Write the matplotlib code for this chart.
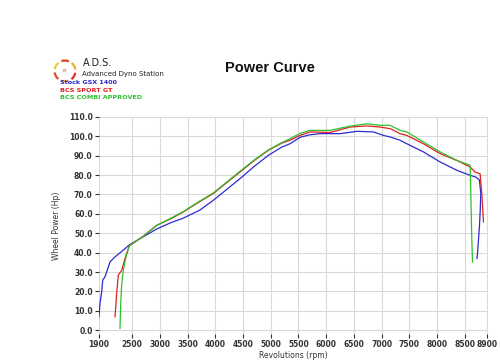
import numpy as np
import matplotlib
matplotlib.use("Agg")
import matplotlib.pyplot as plt
from matplotlib.patches import Arc

# dyno runs
stock_rpm = [1900, 1918, 1949, 1967, 2008, 2099, 2189, 2339, 2447, 2700, 2941, 3200, 3422,
             3723, 3963, 4200, 4445, 4700, 4956, 5200, 5347, 5528, 5700, 5889, 6250, 6552,
             6852, 7032, 7153, 7333, 7454, 7754, 8055, 8357, 8597, 8700, 8765, 8790, 8780,
             8765, 8730, 8720]
stock_hp = [6.9, 13.9, 19.8, 25.8, 27.5, 35.2, 37.8, 41.3, 44.0, 48.2, 52.2, 55.5, 57.8,
            62.0, 67.0, 72.5, 78.2, 84.5, 90.2, 94.5, 96.2, 99.5, 100.8, 101.4, 101.4, 102.6,
            102.3, 100.5, 99.7, 98.0, 96.2, 92.0, 86.8, 82.5, 79.9, 79.0, 77.5, 70.5, 62.0,
            53.3, 39.5, 37.0]

sport_rpm = [2189, 2219, 2248, 2310, 2369, 2447, 2700, 2941, 3200, 3422, 3700, 3963, 4200,
             4445, 4700, 4956, 5200, 5347, 5528, 5709, 6070, 6431, 6732, 6972, 7153, 7333,
             7454, 7754, 8055, 8357, 8597, 8687, 8777, 8808, 8826, 8838]
sport_hp = [6.9, 18.9, 28.4, 30.9, 37.0, 43.5, 48.5, 54.1, 57.5, 61.0, 66.0, 70.5, 76.0,
            81.6, 87.5, 92.8, 96.5, 98.0, 100.5, 102.3, 102.0, 104.8, 105.4, 104.8, 104.0, 101.4,
            100.5, 96.2, 91.1, 87.6, 84.2, 81.6, 80.7, 70.4, 61.9, 55.8]

combi_rpm = [2279, 2292, 2310, 2339, 2387, 2447, 2700, 2941, 3200, 3422, 3700, 3963, 4200,
             4445, 4700, 4956, 5200, 5347, 5528, 5709, 6070, 6431, 6732, 6972, 7153, 7333,
             7454, 7754, 8055, 8357, 8597, 8610, 8625, 8640]
combi_hp = [0.9, 13.8, 24.0, 31.0, 37.8, 43.5, 48.5, 54.0, 57.8, 61.2, 66.3, 70.8, 76.3,
            82.0, 87.8, 93.0, 96.8, 98.8, 101.5, 103.1, 103.1, 105.3, 106.5, 105.7, 105.7, 103.1,
            102.3, 97.1, 92.0, 87.6, 85.1, 70.0, 50.0, 35.2]

series_names = ["Stock GSX 1400", "BCS SPORT GT", "BCS COMBI APPROVED"]
series_colors = ["#2a2ad0", "#e02020", "#2ec02e"]

x_ticks = [1900, 2500, 3000, 3500, 4000, 4500, 5000, 5500, 6000, 6500, 7000, 7500, 8000, 8500, 8900]
y_ticks = np.arange(0, 111, 10)

fig = plt.figure(figsize=(5.0, 3.64), dpi=100)
ax = fig.add_axes([0.198, 0.0824, 0.778, 0.5962])

ax.plot(stock_rpm, stock_hp, color=series_colors[0], lw=0.9)
ax.plot(sport_rpm, sport_hp, color=series_colors[1], lw=0.9)
ax.plot(combi_rpm, combi_hp, color=series_colors[2], lw=0.9)

ax.set_xlim(1900, 8920)
ax.set_ylim(-2, 110)
ax.set_xticks(x_ticks)
ax.set_yticks(y_ticks)
ax.set_yticklabels([f"{v:.1f}" for v in y_ticks])
ax.grid(True, color="#d9d9d9", lw=0.8)
ax.set_axisbelow(True)
for s in ax.spines.values():
    s.set_visible(False)
ax.tick_params(axis="both", labelsize=5.5, colors="#333333", length=3, width=0.8, pad=1.5)
for lbl in ax.get_xticklabels() + ax.get_yticklabels():
    lbl.set_fontweight("bold")

ax.set_xlabel("Revolutions (rpm)", fontsize=5.5, color="#333333", labelpad=1.5)
ax.set_ylabel("Wheel Power (Hp)", fontsize=5.5, color="#333333", labelpad=6)

# title
fig.text(0.54, 0.812, "Power Curve", fontsize=10.5, fontweight="bold",
         family="Liberation Sans", ha="center", va="center", color="#111111")

# logo
lax = fig.add_axes([0.105, 0.77, 0.05, 0.07])
lax.set_xlim(-1.2, 1.2)
lax.set_ylim(-1.2, 1.2)
lax.set_aspect("equal")
lax.axis("off")
arc_colors = ["#e8b030", "#e04020", "#f0c840", "#d85020", "#e8a020", "#e03020"]
for i, c in enumerate(arc_colors):
    lax.add_patch(Arc((0, 0), 2, 2, theta1=i * 60 + 8, theta2=i * 60 + 50, color=c, lw=1.6))
lax.text(0, 0, "ET", fontsize=3, color="#d06020", ha="center", va="center")

fig.text(0.166, 0.828, "A.D.S.", fontsize=7, color="#222222", ha="left", va="center")
fig.text(0.164, 0.797, "Advanced Dyno Station", fontsize=5, color="#222222", ha="left", va="center")

# run names
for i, (name, c) in enumerate(zip(series_names, series_colors)):
    fig.text(0.12, 0.772 - i * 0.02, name, fontsize=4.6, fontweight="bold", color=c,
             ha="left", va="center")

fig.savefig("out.png", dpi=100)
